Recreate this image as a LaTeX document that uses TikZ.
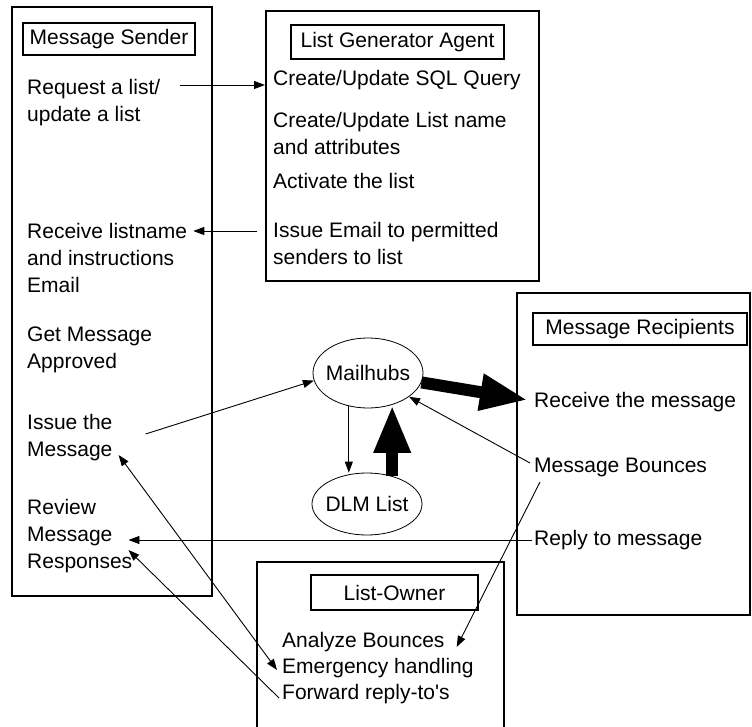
\documentclass[tikz,border=0pt]{standalone}
\usepackage{fontspec}
\setmainfont{Liberation Sans}[Ligatures=TeXOff]
\usetikzlibrary{arrows.meta,calc,shapes.geometric}
\newcommand{\sendto}[2]{
  \draw [arr] (#1) to (#2)
}
\newcommand{\pushto}[2]{
  \draw [fat] (#1) to (#2)
}

\begin{document}
\begin{tikzpicture}[x=1pt,y=-1pt,
  every node/.style={font=\fontsize{21}{27}\selectfont},
  item/.style={anchor=west,align=left,inner sep=0pt},
  tag/.style={draw,line width=1.1pt,inner sep=0pt},
  hub/.style={draw,ellipse,line width=0.8pt,inner xsep=-20pt,inner ysep=0pt},
  arr/.style={line width=0.9pt,-{Triangle[length=11pt,width=8pt]}},
  both/.style={line width=0.9pt,{Triangle[length=11pt,width=8pt]}-{Triangle[length=11pt,width=8pt]}},
  fat/.style={line width=12pt,-{Triangle[length=48pt,width=34pt]}}]
\useasboundingbox (0,0) rectangle (752,727);
\clip (0,0) rectangle (752,727);

% frames
\node[tag,minimum width=200pt,minimum height=589pt] (sender) at (112,301.5) {};
\node[tag,minimum width=273pt,minimum height=270pt] (gen) at (402.5,146) {};
\node[tag,minimum width=233pt,minimum height=322pt] (recips) at (633.5,454) {};
\node[tag,minimum width=247pt,minimum height=178pt] (owner) at (380.5,651) {};

% titles
\node[tag,minimum width=172pt,minimum height=32pt] (sendertitle) at (109,39) {Message Sender};
\node[tag,minimum width=213pt,minimum height=34pt] (gentitle) at (397.5,42) {List Generator Agent};
\node[tag,minimum width=214pt,minimum height=32pt] (recipstitle) at (640,329) {Message Recipients};
\node[tag,minimum width=167pt,minimum height=35pt] (ownertitle) at (394.5,592.5) {List-Owner};

% sender steps
\node[item] (req)     at (27,103) {Request a list/\\update a list};
\node[item] (recv)    at (27,258) {Receive listname\\and instructions\\Email};
\node[item] (approve) at (27,350) {Get Message\\Approved};
\node[item] (issue)   at (27,438) {Issue the\\Message};
\node[item] (review)  at (27,536) {Review\\Message\\Responses};

% list generator steps
\node[item] (sql)      at (273,80)  {Create/Update SQL Query};
\node[item] (name)     at (273,133) {Create/Update List name\\and attributes};
\node[item] (activate) at (273,181) {Activate the list};
\node[item] (permit)   at (273,243) {Issue Email to permitted\\senders to list};

% recipient steps
\node[item] (rcv)    at (534,402) {Receive the message};
\node[item] (bounce) at (534,467) {Message Bounces};
\node[item] (reply)  at (534,540) {Reply to message};

% owner steps
\node[item] (analyze) at (282,642) {Analyze Bounces};
\node[item] (emerg)   at (282,668) {Emergency handling};
\node[item] (fwd)     at (282,694) {Forward reply-to's};

% hubs
\node[hub,minimum width=110pt,minimum height=70pt] (hubs) at (368,373) {Mailhubs};
\node[hub,minimum width=110pt,minimum height=62pt] (dlm)  at (367,504) {DLM List};

% sender <-> generator
\sendto {$(req.east |- sql.west)+(20,5)$} {$(sql.west)+(-8,5)$};
\sendto {$(permit.west)+(-16,-12)$} {$(recv.east |- permit.west)+(6,-12)$};

% message flow
\sendto {$(issue.east)+(33,-4)$} {hubs.188};
\sendto {hubs.-120} {hubs.-120 |- dlm.north};
\pushto {dlm.48} {dlm.48 |- hubs.-53};
\pushto {hubs.-10} {$(rcv.west)+(-6,-2)$};
\sendto {$(bounce.west)+(-4,-4)$} {hubs.-30};

% replies and bounces
\sendto {$(reply.west)+(-2,0)$} {$(review.east |- reply.west)+(-4,0)$};
\sendto {$(bounce.west)+(6,15)$} {$(analyze.east)+(12,5)$};
\sendto {$(fwd.west)+(-3,4)$} {$(review.east)+(-4,14)$};
\draw [both] ($(issue.east)+(6,17)$) to ($(emerg.west)+(-5,2)$);

\end{tikzpicture}
\end{document}
